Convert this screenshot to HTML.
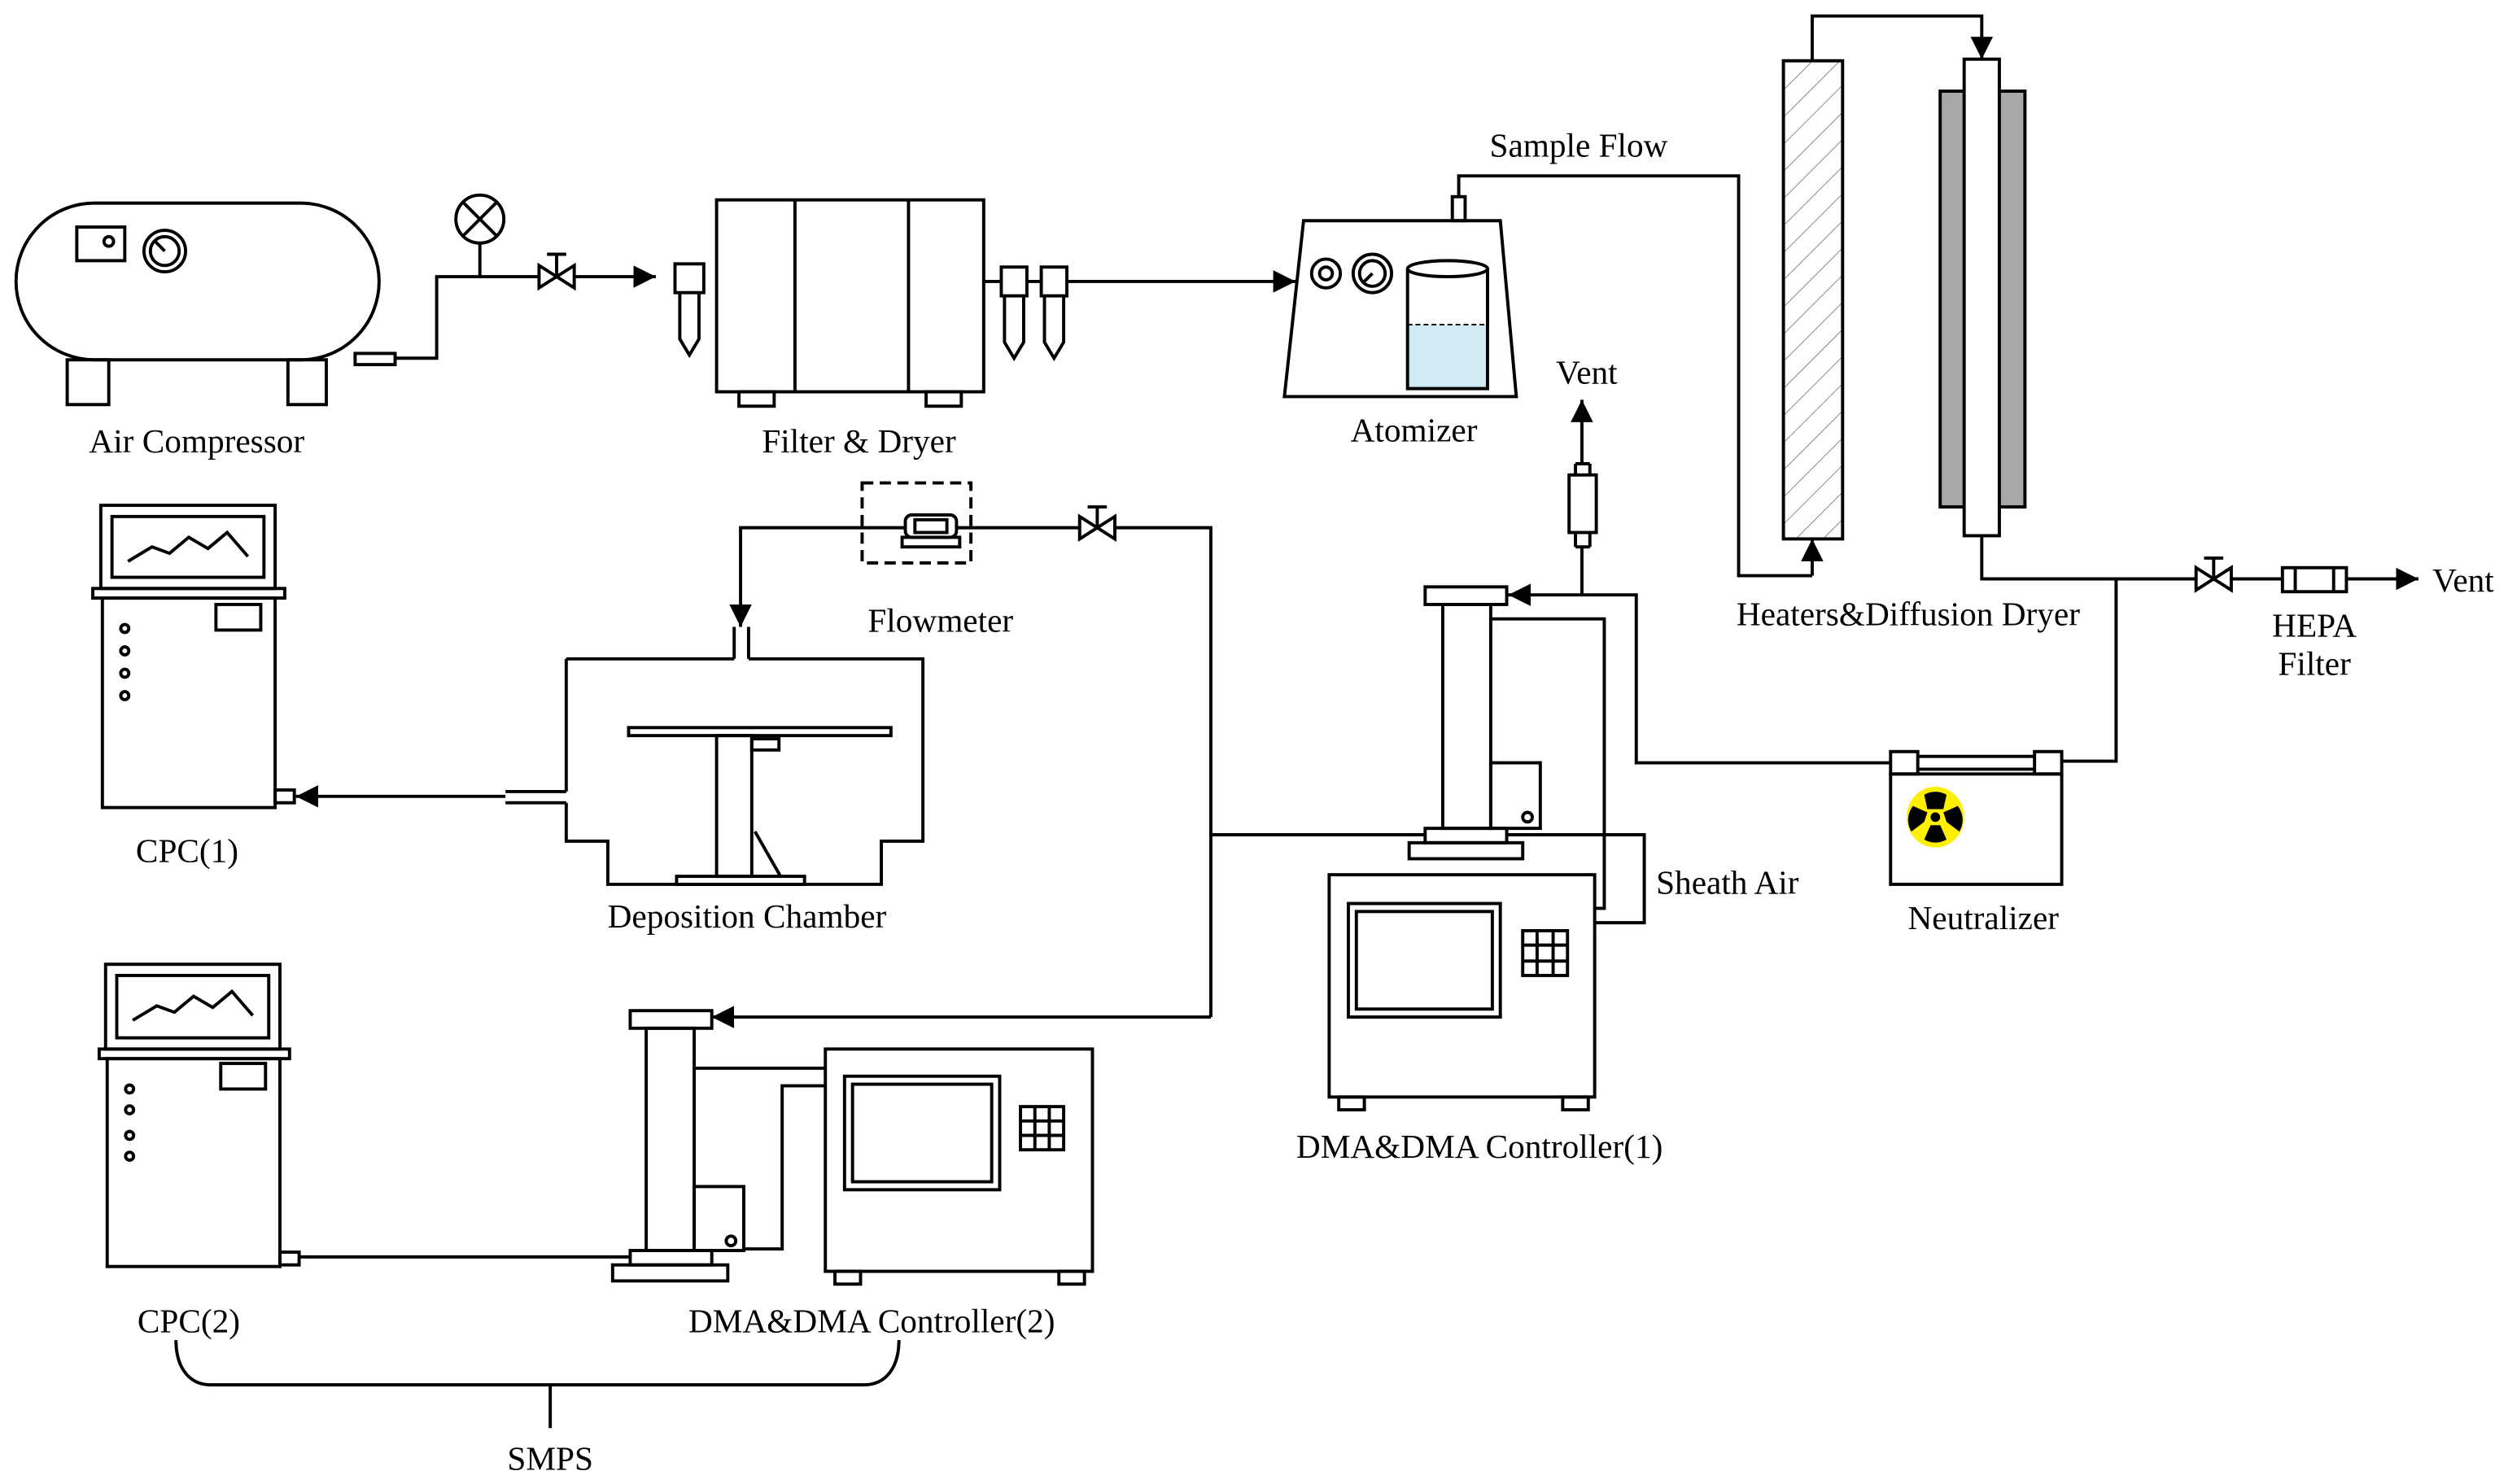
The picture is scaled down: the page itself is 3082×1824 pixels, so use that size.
<!DOCTYPE html>
<html><head><style>html,body{margin:0;padding:0;background:#fff}svg{display:block}</style></head>
<body>
<svg width="3082" height="1824" viewBox="0 0 1568 928" xmlns="http://www.w3.org/2000/svg" font-family="Liberation Serif, serif" font-size="21">
<defs>
<marker id="a" viewBox="0 0 10 10" refX="10" refY="5" markerWidth="14" markerHeight="14" markerUnits="userSpaceOnUse" orient="auto"><path d="M0,0L10,5L0,10z" fill="#000"/></marker>
<pattern id="h" width="12" height="12" patternUnits="userSpaceOnUse" patternTransform="rotate(45)"><line x1="0" y1="0" x2="0" y2="12" stroke="#888" stroke-width="1"/></pattern>
</defs>
<g fill="none" stroke="#000" stroke-width="2">
<!-- Air compressor -->
<rect x="10" y="127" width="227" height="98" rx="49"/>
<rect x="48" y="142" width="30" height="21"/><circle cx="68" cy="151" r="3"/>
<circle cx="103" cy="157" r="13"/><circle cx="103" cy="157" r="9"/><line x1="103" y1="157" x2="97" y2="151"/>
<rect x="42" y="225" width="26" height="28"/><rect x="180" y="225" width="24" height="28"/>
<rect x="222" y="221" width="25" height="7"/>
<polyline points="247,224 273,224 273,173 337,173"/>
<path d="M337,166L359,180L359,166L337,180z"/><line x1="348" y1="173" x2="348" y2="159"/><line x1="342" y1="159" x2="354" y2="159"/>
<line x1="359" y1="173" x2="410" y2="173" marker-end="url(#a)"/>
<circle cx="300" cy="137" r="15"/><line x1="289" y1="126" x2="311" y2="148"/><line x1="311" y1="126" x2="289" y2="148"/><line x1="300" y1="152" x2="300" y2="173"/>
<!-- Filter & dryer -->
<rect x="422" y="165" width="18" height="18"/><path d="M425,183L425,212L431,222L437,212L437,183"/>
<rect x="448" y="125" width="167" height="120"/><line x1="497" y1="125" x2="497" y2="245"/><line x1="568" y1="125" x2="568" y2="245"/>
<rect x="462" y="245" width="22" height="9"/><rect x="579" y="245" width="22" height="9"/>
<rect x="626" y="167" width="16" height="18"/><path d="M628,185L628,214L634,224L640,214L640,185"/>
<rect x="651" y="167" width="16" height="18"/><path d="M653,185L653,214L659,224L665,214L665,185"/>
<line x1="615" y1="176" x2="626" y2="176"/><line x1="642" y1="176" x2="651" y2="176"/>
<line x1="667" y1="176" x2="810" y2="176" marker-end="url(#a)"/>
<!-- Atomizer -->
<path d="M815,138L938,138L948,248L803,248z"/><rect x="908" y="123" width="8" height="15"/>
<circle cx="829" cy="171" r="9"/><circle cx="829" cy="171" r="4"/>
<circle cx="858" cy="171" r="12"/><circle cx="858" cy="171" r="8"/><line x1="858" y1="171" x2="852" y2="177"/>
<rect x="880" y="203" width="50" height="40" fill="#cfeaf5" stroke="none"/>
<path d="M880,168L880,243L930,243L930,168"/><ellipse cx="905" cy="168" rx="25" ry="5"/><line x1="880" y1="203" x2="930" y2="203" stroke-dasharray="3,2" stroke-width="1"/>
<polyline points="912,123 912,110 1087,110 1087,360 1133,360"/>
<line x1="1133" y1="360" x2="1133" y2="337" marker-end="url(#a)"/>
<!-- Heaters & dryer -->
<rect x="1115" y="38" width="37" height="299" fill="url(#h)"/>
<polyline points="1133,38 1133,10 1239,10 1239,37" marker-end="url(#a)"/>
<rect x="1213" y="57" width="53" height="260" fill="#a8a8a8"/>
<rect x="1228" y="37" width="22" height="298" fill="#fff"/>
<polyline points="1239,335 1239,362 1373,362"/>
<path d="M1373,355L1395,369L1395,355L1373,369z"/><line x1="1384" y1="362" x2="1384" y2="349"/><line x1="1378" y1="349" x2="1390" y2="349"/>
<line x1="1395" y1="362" x2="1427" y2="362"/>
<rect x="1427" y="355" width="40" height="15"/><line x1="1435" y1="355" x2="1435" y2="370"/><line x1="1459" y1="355" x2="1459" y2="370"/>
<line x1="1467" y1="362" x2="1512" y2="362" marker-end="url(#a)"/>
<polyline points="1323,362 1323,476 1289,476"/>
<!-- Neutralizer -->
<rect x="1182" y="484" width="107" height="69"/>
<rect x="1182" y="470" width="17" height="14"/><rect x="1272" y="470" width="17" height="14"/>
<line x1="1199" y1="473" x2="1272" y2="473"/><line x1="1199" y1="481" x2="1272" y2="481"/>
<polyline points="1182,477 1023,477 1023,372 943,372" marker-end="url(#a)"/>
<line x1="989" y1="372" x2="989" y2="342"/>
<rect x="981" y="297" width="17" height="36"/><line x1="985" y1="333" x2="985" y2="342"/><line x1="994" y1="333" x2="994" y2="342"/><line x1="985" y1="342" x2="994" y2="342"/>
<line x1="985" y1="297" x2="985" y2="290"/><line x1="994" y1="297" x2="994" y2="290"/><line x1="985" y1="290" x2="994" y2="290"/>
<line x1="989" y1="290" x2="989" y2="250" marker-end="url(#a)"/>
<!-- DMA1 -->
<rect x="891" y="367" width="51" height="11"/><rect x="902" y="378" width="30" height="140"/>
<rect x="932" y="477" width="31" height="41"/><circle cx="955" cy="511" r="3"/>
<rect x="891" y="518" width="51" height="9"/><rect x="881" y="527" width="71" height="10"/>
<polyline points="932,387 1003,387 1003,568 997,568"/>
<polyline points="942,522 1028,522 1028,577 997,577"/>
<rect x="831" y="547" width="166" height="139"/>
<rect x="843" y="565" width="95" height="71"/><rect x="848" y="570" width="85" height="61"/>
<rect x="952" y="582" width="28" height="28"/><line x1="961" y1="582" x2="961" y2="610"/><line x1="971" y1="582" x2="971" y2="610"/><line x1="952" y1="591" x2="980" y2="591"/><line x1="952" y1="601" x2="980" y2="601"/>
<rect x="837" y="686" width="16" height="8"/><rect x="977" y="686" width="16" height="8"/>
<!-- piping center -->
<line x1="757" y1="522" x2="891" y2="522"/>
<polyline points="757,636 757,330 698,330"/>
<path d="M675,323L697,337L697,323L675,337z"/><line x1="686" y1="330" x2="686" y2="317"/><line x1="680" y1="317" x2="692" y2="317"/>
<line x1="675" y1="330" x2="598" y2="330"/>
<polyline points="757,636 445,636" marker-end="url(#a)"/>
<!-- flowmeter -->
<rect x="539" y="302" width="68" height="50" stroke-dasharray="7,4"/>
<rect x="566" y="322" width="32" height="14" rx="4"/><rect x="572" y="325" width="20" height="8"/><rect x="564" y="336" width="36" height="6"/>
<polyline points="566,330 463,330 463,392" marker-end="url(#a)"/>
<!-- deposition chamber -->
<path d="M354,412L459,412M468,412L577,412L577,526L551,526L551,553L380,553L380,526L354,526L354,502M354,495L354,412"/>
<line x1="459" y1="392" x2="459" y2="412"/><line x1="468" y1="392" x2="468" y2="412"/>
<rect x="393" y="455" width="164" height="5"/>
<rect x="448" y="460" width="22" height="88"/><rect x="470" y="462" width="17" height="7"/>
<rect x="423" y="548" width="80" height="5"/><line x1="472" y1="520" x2="488" y2="548"/>
<line x1="316" y1="495" x2="354" y2="495"/><line x1="316" y1="502" x2="354" y2="502"/>
<line x1="316" y1="498" x2="185" y2="498" marker-end="url(#a)"/>
<!-- CPC1 -->
<rect x="63" y="316" width="109" height="52"/><rect x="70" y="323" width="95" height="38"/>
<polyline points="80,351 95,342 106,346 118,336 130,343 142,333 155,348"/>
<rect x="58" y="368" width="120" height="6"/><rect x="64" y="374" width="108" height="131"/>
<rect x="135" y="378" width="28" height="16"/>
<circle cx="78" cy="393" r="2.5"/><circle cx="78" cy="407" r="2.5"/><circle cx="78" cy="421" r="2.5"/><circle cx="78" cy="435" r="2.5"/>
<rect x="172" y="494" width="12" height="8"/>
<!-- CPC2 -->
<rect x="66" y="603" width="109" height="53"/><rect x="73" y="610" width="95" height="39"/>
<polyline points="83,638 98,629 109,633 121,623 133,630 145,620 158,635"/>
<rect x="62" y="656" width="119" height="6"/><rect x="67" y="662" width="108" height="130"/>
<rect x="138" y="665" width="28" height="16"/>
<circle cx="81" cy="681" r="2.5"/><circle cx="81" cy="694" r="2.5"/><circle cx="81" cy="710" r="2.5"/><circle cx="81" cy="723" r="2.5"/>
<rect x="175" y="783" width="12" height="8"/>
<line x1="187" y1="786" x2="394" y2="786"/>
<!-- DMA2 -->
<rect x="394" y="632" width="51" height="11"/><rect x="404" y="643" width="30" height="139"/>
<rect x="434" y="742" width="31" height="40"/><circle cx="457" cy="776" r="3"/>
<rect x="394" y="782" width="51" height="9"/><rect x="383" y="791" width="72" height="10"/>
<line x1="434" y1="668" x2="516" y2="668"/>
<polyline points="465,781 489,781 489,679 516,679"/>
<rect x="516" y="656" width="167" height="139"/>
<rect x="528" y="673" width="97" height="71"/><rect x="533" y="678" width="87" height="61"/>
<rect x="638" y="692" width="27" height="27"/><line x1="647" y1="692" x2="647" y2="719"/><line x1="656" y1="692" x2="656" y2="719"/><line x1="638" y1="701" x2="665" y2="701"/><line x1="638" y1="710" x2="665" y2="710"/>
<rect x="522" y="795" width="16" height="8"/><rect x="662" y="795" width="16" height="8"/>
<!-- SMPS brace -->
<path d="M110,838C110,855 118,866 132,866L540,866C554,866 562,855 562,838"/>
<line x1="344" y1="866" x2="344" y2="893"/>
</g>
<!-- radiation -->
<ellipse cx="1210" cy="511" rx="18" ry="19" fill="#ffef00"/>
<g fill="#000">
<circle cx="1210" cy="511" r="3"/>
<path d="M1210,511m-5,-5 L1203,497 A14,14 0 0 1 1217,497 L1215,506z"/>
<path d="M1203,514 L1195,520 A14,14 0 0 1 1196,504 L1205,508z"/>
<path d="M1217,514 L1225,520 A14,14 0 0 0 1224,504 L1215,508z"/>
<path d="M1207,516 L1203,525 A14,14 0 0 0 1217,525 L1213,516z"/>
</g>
<g fill="#000" text-anchor="middle">
<text x="123" y="283">Air Compressor</text>
<text x="537" y="283">Filter &amp; Dryer</text>
<text x="884" y="276">Atomizer</text>
<text x="987" y="98">Sample Flow</text>
<text x="992" y="240">Vent</text>
<text x="1193" y="391">Heaters&amp;Diffusion Dryer</text>
<text x="1540" y="370">Vent</text>
<text x="1447" y="398">HEPA</text>
<text x="1447" y="422">Filter</text>
<text x="588" y="395">Flowmeter</text>
<text x="1240" y="581">Neutralizer</text>
<text x="1080" y="559">Sheath Air</text>
<text x="117" y="539">CPC(1)</text>
<text x="467" y="580">Deposition Chamber</text>
<text x="925" y="724">DMA&amp;DMA Controller(1)</text>
<text x="118" y="833">CPC(2)</text>
<text x="545" y="833">DMA&amp;DMA Controller(2)</text>
<text x="344" y="919">SMPS</text>
</g>
</svg>
</body></html>
